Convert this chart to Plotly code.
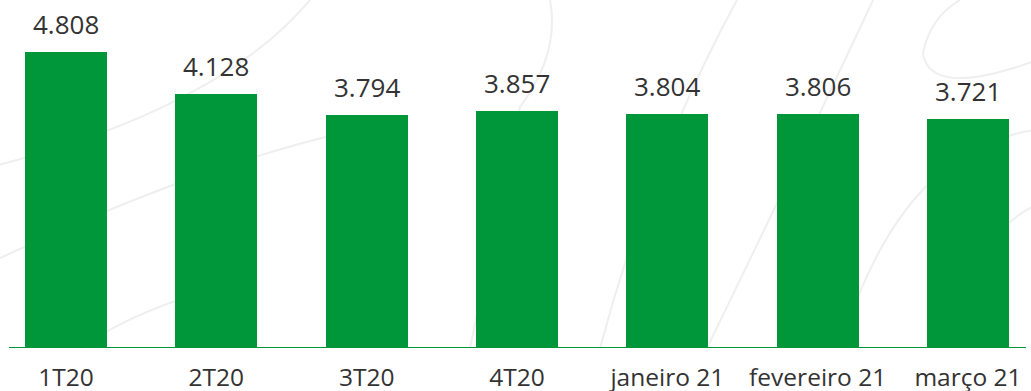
import plotly.graph_objects as go

categories = ["1T20", "2T20", "3T20", "4T20", "janeiro 21", "fevereiro 21", "março 21"]
values = [4808, 4128, 3794, 3857, 3804, 3806, 3721]
labels = ["4.808", "4.128", "3.794", "3.857", "3.804", "3.806", "3.721"]

GREEN = "#00963A"
TEXT = "#333333"
FONT = "Open Sans"

fig = go.Figure()
fig.add_trace(go.Bar(
    x=list(range(len(categories))),
    y=values,
    marker=dict(color=GREEN, line=dict(width=0)),
    width=0.545,
    hoverinfo="skip",
))

for i, (v, t) in enumerate(zip(values, labels)):
    fig.add_annotation(x=i, y=v, text=t, showarrow=False, xanchor="center",
                       yanchor="bottom", yshift=8,
                       font=dict(family=FONT, size=26, color=TEXT))

# decorative faint curves in the background (pixel coordinates of the page)
W, H = 1031, 391
curves = [
    "M 0 185 Q 220 120 310 0",
    "M 0 290 Q 190 190 340 150",
    "M 80 391 Q 140 345 230 320",
    "M 550 0 Q 560 60 520 120 L 470 391",
    "M 737 0 Q 650 180 600 391",
    "M 873 0 Q 790 200 707 391",
    "M 1031 70 Q 930 110 923 60 Q 930 20 960 0",
    "M 1031 147 Q 900 170 840 391",
    "M 1031 233 Q 970 270 947 391",
]
def to_paper(path):
    out = []
    toks = path.split()
    i = 0
    while i < len(toks):
        t = toks[i]
        if t.isalpha():
            out.append(t)
            i += 1
        else:
            x = float(toks[i]) / W
            y = 1 - float(toks[i + 1]) / H
            out.append(f"{x:.4f},{y:.4f}")
            i += 2
    return " ".join(out)

for p in curves:
    fig.add_shape(type="path", path=to_paper(p), xref="paper", yref="paper",
                  line=dict(color="#efefef", width=2), layer="below")

fig.add_shape(type="line", xref="paper", yref="y", x0=9/1031, x1=1026/1031, y0=0, y1=0,
              line=dict(color=GREEN, width=2), layer="above")

fig.update_layout(
    width=1031, height=391,
    margin=dict(l=0, r=0, t=0, b=43),
    paper_bgcolor="white", plot_bgcolor="rgba(0,0,0,0)",
    showlegend=False,
    bargap=0,
    xaxis=dict(
        range=[-0.439, 6.419],
        tickmode="array", tickvals=list(range(len(categories))), ticktext=categories,
        showgrid=False, zeroline=False, showline=False,
        ticks="outside", ticklen=8, tickcolor="rgba(0,0,0,0)",
        tickfont=dict(family=FONT, size=24.5, color=TEXT),
        automargin=False,
    ),
    yaxis=dict(range=[0, 5660], visible=False, showgrid=False, zeroline=False),
)

fig.write_html("out.html", config={"displayModeBar": False, "staticPlot": True},
               post_script="document.body.style.margin='0';document.body.style.overflow='hidden';")
